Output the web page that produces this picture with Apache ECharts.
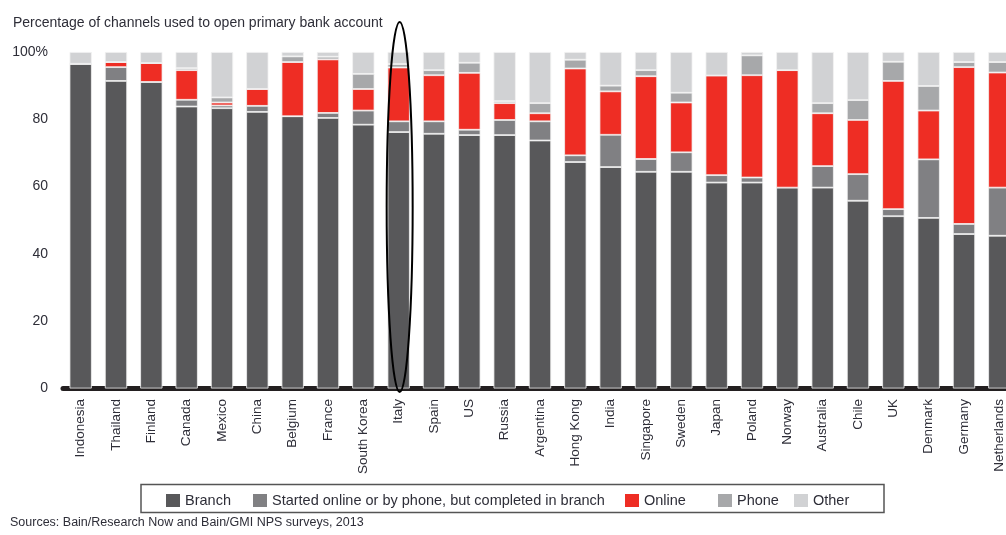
<!DOCTYPE html>
<html>
<head>
<meta charset="utf-8">
<script src="https://cdn.jsdelivr.net/npm/echarts@6.0.0/dist/echarts.min.js"></script>
<style>
html,body{margin:0;padding:0;background:#fff;}
#main{width:1006px;height:535px;}
</style>
</head>
<body>
<div id="main"></div>
<script>
var categories = ['Indonesia','Thailand','Finland','Canada','Mexico','China','Belgium','France','South Korea','Italy','Spain','US','Russia','Argentina','Hong Kong','India','Singapore','Sweden','Japan','Poland','Norway','Australia','Chile','UK','Denmark','Germany','Netherlands'];
var branch  = [96.5,91.4,91.1,83.8,83.3,82.2,80.9,80.4,78.4,76.2,75.7,75.3,75.3,73.7,67.3,65.8,64.4,64.4,61.2,61.2,59.7,59.7,55.8,51.2,50.7,45.9,45.4];
var started = [0,4.1,0,2.0,0.8,1.8,0,1.5,4.2,3.2,3.7,1.6,4.5,5.7,2.0,9.6,3.8,5.8,2.2,1.5,0,6.4,7.9,2.1,17.4,3.0,14.3];
var online  = [0,1.5,5.6,8.8,0.9,5.0,16.1,15.9,6.4,16.0,13.7,16.9,5.0,2.4,25.8,12.9,24.6,14.8,29.6,30.4,34.9,15.7,16.1,38.1,14.5,46.6,34.2];
var phone   = [0,0,0,0.6,1.5,0,1.7,0.8,4.5,1.0,1.5,3.0,0.6,3.0,2.6,1.7,1.8,2.9,0,5.9,0,3.0,5.9,5.7,7.3,1.5,3.1];
var other   = [3.5,3.0,3.3,4.8,13.5,11.0,1.3,1.4,6.5,3.6,5.4,3.2,14.6,15.2,2.3,10.0,5.4,12.1,7.0,1.0,5.4,15.2,14.3,2.9,10.1,3.0,3.0];
var yTicks = [0,20,40,60,80,100];
var seriesNames = ['Branch','Started online or by phone, but completed in branch','Online','Phone','Other'];
var seriesColors = ['#58585a','#808083','#ee2d24','#a7a8aa','#d1d2d4'];
var seriesData = [branch, started, online, phone, other];
var highlighted = 'Italy';

var FONT = 'Liberation Sans';
var TXT = '#2e2e38';

var chart = echarts.init(document.getElementById('main'), null, {renderer:'canvas'});

var series = seriesNames.map(function(n,i){
  return {
    name: n, type: 'bar', stack: 'all',
    barCategoryGap: '37%',
    data: seriesData[i],
    itemStyle: {color: seriesColors[i], borderColor: '#f2f2f2', borderWidth: 0.8},
    emphasis: {disabled: true},
    animation: false
  };
});

var legendLefts = [166, 253, 625, 718, 794];
var legends = seriesNames.map(function(n,i){
  return {
    data: [n],
    left: legendLefts[i], top: 493,
    padding: 0,
    itemWidth: 14, itemHeight: 13,
    icon: 'rect',
    itemStyle: {borderWidth: 0},
    textStyle: {fontSize: 14.5, color: TXT, fontFamily: FONT, padding: [1,0,0,0]},
    selectedMode: false
  };
});

chart.setOption({
  animation: false,
  textStyle: {fontFamily: FONT},
  title: {
    text: 'Percentage of channels used to open primary bank account',
    left: 8, top: 11,
    textStyle: {fontFamily: FONT, fontSize: 14, fontWeight: 'normal', color: TXT}
  },
  grid: {left: 63, top: 52, width: 954, height: 336.5, outerBoundsMode: 'none', containLabel: false},
  xAxis: {
    type: 'category', data: categories,
    offset: 2.5,
    axisLine: {show: true, lineStyle: {color: '#231f20', width: 5}},
    axisTick: {show: false},
    axisLabel: {rotate: 90, interval: 0, margin: 8, fontSize: 13.5, color: TXT, fontFamily: FONT}
  },
  yAxis: {
    type: 'value', min: 0, max: 100, interval: 20,
    axisLine: {show: false}, axisTick: {show: false}, splitLine: {show: false},
    axisLabel: {
      margin: 15, fontSize: 14, color: TXT, fontFamily: FONT,
      formatter: function(v){ return v === 100 ? '100%' : String(v); }
    }
  },
  legend: legends,
  series: series
});

var cx = chart.convertToPixel({xAxisIndex: 0}, highlighted);
var yTop = 22, yBot = 392;
chart.setOption({
  graphic: [
    {type: 'ellipse', silent: true, z: 100,
     shape: {cx: cx + 1, cy: (yTop + yBot) / 2, rx: 13, ry: (yBot - yTop) / 2},
     style: {fill: 'none', stroke: '#000', lineWidth: 2}},
    {type: 'rect', silent: true, z: 0,
     shape: {x: 141, y: 484.5, width: 743, height: 28},
     style: {fill: 'none', stroke: '#555', lineWidth: 1.5}},
    {type: 'text', silent: true, left: 10, top: 516,
     style: {text: 'Sources: Bain/Research Now and Bain/GMI NPS surveys, 2013', fill: TXT, font: '12.5px "Liberation Sans"'}}
  ]
});
</script>
</body>
</html>
